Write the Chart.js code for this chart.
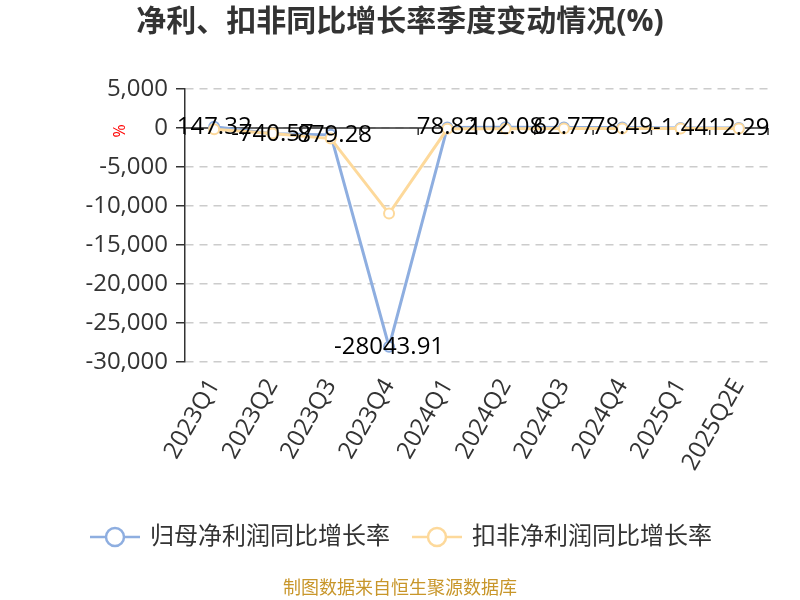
<!DOCTYPE html>
<html>
<head>
<meta charset="utf-8">
<title>净利、扣非同比增长率季度变动情况</title>
<script src="https://cdn.jsdelivr.net/npm/chart.js@4"></script>
<style>
  body { margin: 0; background: #fff; }
  canvas { display: block; }
</style>
</head>
<body>
<canvas id="rateChart" width="800" height="600"></canvas>
<script>
// data
const quarters = ["2023Q1", "2023Q2", "2023Q3", "2023Q4", "2024Q1", "2024Q2", "2024Q3", "2024Q4", "2025Q1", "2025Q2E"];
const netProfitYoY = [147.32, -740.57, -879.28, -28043.91, 78.82, 102.08, 62.77, 78.49, -1.44, 12.29];
const deductedYoY = [-170, -720, -1360, -10970, -100, -100, -80, -60, -80, -60];
const seriesNames = ["归母净利润同比增长率", "扣非净利润同比增长率"];
const seriesColors = ["#8eaee0", "#fdd99b"];

const FONT = "'Open Sans', 'Noto Sans CJK SC', sans-serif";

// zero line + ticks on it
const zeroLinePlugin = {
  id: "zeroLine",
  beforeDatasetsDraw(chart) {
    const { ctx, chartArea, scales } = chart;
    const y0 = scales.y.getPixelForValue(0);
    ctx.save();
    ctx.strokeStyle = "#333";
    ctx.lineWidth = 1.5;
    ctx.beginPath();
    ctx.moveTo(chartArea.left, y0);
    ctx.lineTo(chartArea.right, y0);
    for (let i = 0; i <= quarters.length; i++) {
      const x = scales.x.getPixelForValue(i - 0.5);
      ctx.moveTo(x, y0);
      ctx.lineTo(x, y0 + 7);
    }
    ctx.stroke();
    ctx.restore();
  }
};

// value labels on the first series
const valueLabelPlugin = {
  id: "valueLabels",
  afterDatasetsDraw(chart) {
    const { ctx } = chart;
    const meta = chart.getDatasetMeta(0);
    ctx.save();
    ctx.font = "24px " + FONT;
    ctx.fillStyle = "#000";
    ctx.textAlign = "center";
    ctx.textBaseline = "middle";
    meta.data.forEach((pt, i) => {
      ctx.fillText(netProfitYoY[i].toFixed(2), pt.x, pt.y);
    });
    ctx.restore();
  }
};

// title, legend, unit mark and source text
const extrasPlugin = {
  id: "extras",
  afterDraw(chart) {
    const { ctx, scales } = chart;
    ctx.save();
    ctx.fillStyle = "#333";
    ctx.font = "bold 30px " + FONT;
    ctx.textAlign = "center";
    ctx.textBaseline = "middle";
    ctx.fillText("净利、扣非同比增长率季度变动情况(%)", 400, 22);
    ctx.restore();

    // unit
    ctx.save();
    ctx.fillStyle = "#ff0000";
    ctx.font = "16px " + FONT;
    ctx.textAlign = "center";
    ctx.textBaseline = "middle";
    ctx.translate(120, scales.y.getPixelForValue(0) + 3);
    ctx.rotate(-Math.PI / 2);
    ctx.fillText("%", 0, 0);
    ctx.restore();

    // legend
    const items = [{ x: 90 }, { x: 412 }];
    ctx.save();
    ctx.font = "24px " + FONT;
    ctx.textBaseline = "middle";
    ctx.textAlign = "left";
    items.forEach((it, i) => {
      const y = 537;
      ctx.strokeStyle = seriesColors[i];
      ctx.lineWidth = 2.5;
      ctx.beginPath();
      ctx.moveTo(it.x, y);
      ctx.lineTo(it.x + 50, y);
      ctx.stroke();
      ctx.beginPath();
      ctx.arc(it.x + 25, y, 9, 0, Math.PI * 2);
      ctx.fillStyle = "#fff";
      ctx.fill();
      ctx.stroke();
      ctx.fillStyle = "#333";
      ctx.fillText(seriesNames[i], it.x + 60, y);
    });
    // source
    ctx.font = "18px " + FONT;
    ctx.fillStyle = "#c8962a";
    ctx.textAlign = "center";
    ctx.fillText("制图数据来自恒生聚源数据库", 400, 589);
    ctx.restore();
  }
};

const ctx = document.getElementById("rateChart").getContext("2d");
const rateChart = new Chart(ctx, {
  type: "line",
  data: {
    labels: quarters,
    datasets: [
      {
        label: seriesNames[0],
        data: netProfitYoY,
        borderColor: seriesColors[0],
        borderWidth: 3,
        pointRadius: 5,
        pointBorderWidth: 2,
        pointBackgroundColor: "#fff",
        pointBorderColor: seriesColors[0],
        tension: 0,
        order: 1
      },
      {
        label: seriesNames[1],
        data: deductedYoY,
        borderColor: seriesColors[1],
        borderWidth: 3,
        pointRadius: 5,
        pointBorderWidth: 2,
        pointBackgroundColor: "#fff",
        pointBorderColor: seriesColors[1],
        tension: 0,
        order: 0
      }
    ]
  },
  options: {
    responsive: false,
    animation: false,
    locale: "en-US",
    layout: { padding: { left: 0, right: 32, top: 89, bottom: 0 } },
    plugins: {
      legend: { display: false },
      tooltip: { enabled: false },
      title: { display: false }
    },
    scales: {
      x: {
        offset: true,
        grid: { display: false },
        border: { display: false },
        ticks: {
          color: "#333",
          font: { size: 24, family: FONT },
          minRotation: 60,
          maxRotation: 60,
          padding: 4
        },
        afterFit(scale) { scale.height = 238; }
      },
      y: {
        min: -30000,
        max: 5000,
        ticks: {
          stepSize: 5000,
          color: "#333",
          font: { size: 24, family: FONT },
          padding: 8
        },
        grid: {
          color: "#cccccc",
          lineWidth: 1.5,
          drawTicks: true,
          tickLength: 9,
          tickColor: "#333",
          tickWidth: 1.5
        },
        border: { display: true, color: "#333", width: 1.5, dash: [8, 6] },
        afterFit(scale) { scale.width = 185; }
      }
    }
  },
  plugins: [zeroLinePlugin, valueLabelPlugin, extrasPlugin]
});
</script>
</body>
</html>
